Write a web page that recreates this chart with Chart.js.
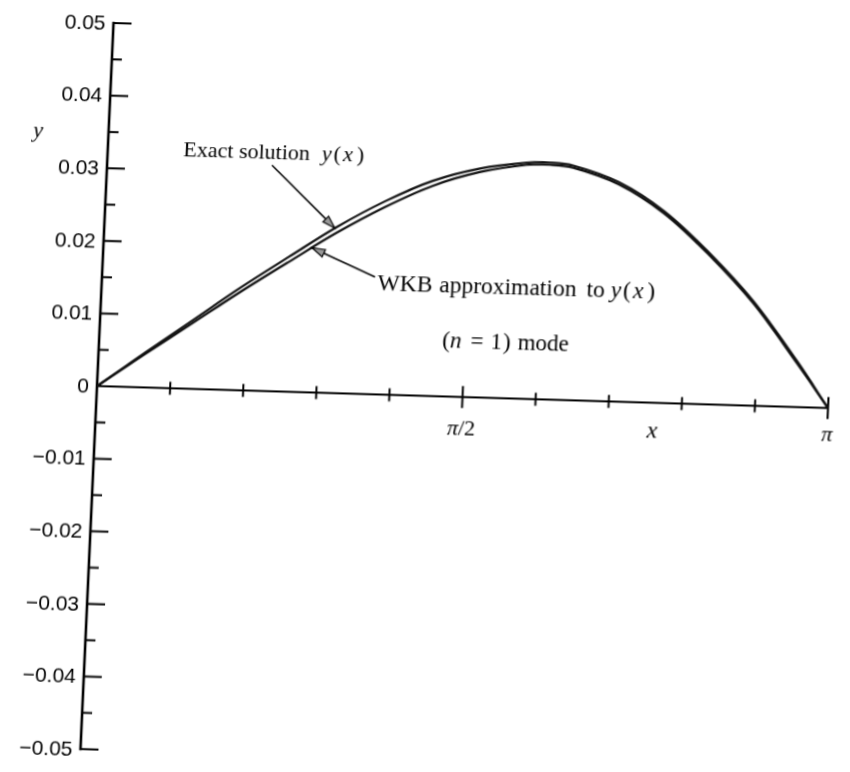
<!DOCTYPE html>
<html>
<head>
<meta charset="utf-8">
<script src="https://cdn.jsdelivr.net/npm/chart.js@4.4.1/dist/chart.umd.min.js"></script>
<style>
  html, body { margin: 0; padding: 0; background: #fff; }
  #wrap { position: relative; width: 850px; height: 772px; overflow: hidden; background: #fff; }
  /* the scanned figure is slightly skewed, follow it */
  #chart { position: absolute; left: 0; top: 0; transform-origin: 97px 386px;
           transform: matrix(1, 0.0301, -0.0455, 1, 0, 0); }
</style>
</head>
<body>
<div id="wrap"><canvas id="chart" width="850" height="772"></canvas></div>
<script>
// data
const xValues = [0, 0.2, 0.4, 0.6, 0.8, 1.0, 1.2, 1.4, 1.6, 1.8, 1.9, 2.0, 2.2, 2.4, 2.6, 2.8, 3.0, Math.PI];
const exactY  = [0, 0.0048, 0.0095, 0.0142, 0.0186, 0.0229, 0.0266, 0.0296, 0.0315, 0.0325, 0.0326, 0.0323, 0.0302, 0.0264, 0.0209, 0.0144, 0.0063, 0];
const wkbY    = [0, 0.0046, 0.0091, 0.0136, 0.0179, 0.0221, 0.0258, 0.0289, 0.0310, 0.0322, 0.0323, 0.0320, 0.0299, 0.0261, 0.0206, 0.0141, 0.0060, 0];

const yMajorTicks = [0.05, 0.04, 0.03, 0.02, 0.01, 0, -0.01, -0.02, -0.03, -0.04, -0.05];
const yTickLabels = ['0.05', '0.04', '0.03', '0.02', '0.01', '0', '\u22120.01', '\u22120.02', '\u22120.03', '\u22120.04', '\u22120.05'];
const yMinorTicks = [0.045, 0.035, 0.025, 0.015, 0.005, -0.005, -0.015, -0.025, -0.035, -0.045];
const xTickFractions = [0.1, 0.2, 0.3, 0.4, 0.5, 0.6, 0.7, 0.8, 0.9, 1.0];
const xLongTicks = [0.5, 1.0];

// annotation anchors, in data units
const exactArrow = [[0.708, 0.0311], [0.99, 0.0227]];
const wkbArrow = [[1.172, 0.01614], [0.896, 0.0199]];

const serif = '"Liberation Serif", "Times New Roman", serif';
const sans = '"Liberation Sans", Arial, sans-serif';

function drawParts(ctx, parts, x, y, size) {
  let cx = x;
  parts.forEach(p => {
    ctx.font = (p.i ? 'italic ' : '') + size + 'px ' + serif;
    ctx.fillText(p.t, cx, y);
    cx += ctx.measureText(p.t).width + (p.gap || 0);
  });
}

function partsWidth(ctx, parts, size) {
  let w = 0;
  parts.forEach(p => {
    ctx.font = (p.i ? 'italic ' : '') + size + 'px ' + serif;
    w += ctx.measureText(p.t).width + (p.gap || 0);
  });
  return w;
}

function arrow(ctx, x1, y1, x2, y2) {
  ctx.beginPath();
  ctx.moveTo(x1, y1);
  ctx.lineTo(x2, y2);
  ctx.lineWidth = 1.6;
  ctx.stroke();
  const ang = Math.atan2(y2 - y1, x2 - x1);
  const len = 13, half = 4;
  const bx = x2 - len * Math.cos(ang), by = y2 - len * Math.sin(ang);
  ctx.beginPath();
  ctx.moveTo(x2, y2);
  ctx.lineTo(bx + half * Math.sin(ang), by - half * Math.cos(ang));
  ctx.lineTo(bx - half * Math.sin(ang), by + half * Math.cos(ang));
  ctx.closePath();
  ctx.fillStyle = '#999';
  ctx.fill();
  ctx.lineWidth = 1.2;
  ctx.stroke();
  ctx.fillStyle = '#000';
}

const bookAxes = {
  id: 'bookAxes',
  beforeDatasetsDraw(chart) {
    const ctx = chart.ctx;
    const xs = chart.scales.x, ys = chart.scales.y;
    const x0 = xs.getPixelForValue(0);
    const y0 = ys.getPixelForValue(0);
    ctx.save();
    ctx.strokeStyle = '#000';
    ctx.fillStyle = '#000';
    ctx.lineCap = 'square';

    // y axis
    ctx.lineWidth = 2.6;
    ctx.beginPath();
    ctx.moveTo(x0, ys.getPixelForValue(0.05));
    ctx.lineTo(x0, ys.getPixelForValue(-0.05));
    ctx.stroke();

    ctx.lineWidth = 2;
    yMajorTicks.forEach(v => {
      const py = ys.getPixelForValue(v);
      ctx.beginPath(); ctx.moveTo(x0, py); ctx.lineTo(x0 + 17, py); ctx.stroke();
    });
    yMinorTicks.forEach(v => {
      const py = ys.getPixelForValue(v);
      ctx.beginPath(); ctx.moveTo(x0, py); ctx.lineTo(x0 + 9, py); ctx.stroke();
    });

    ctx.font = '21px ' + sans;
    ctx.textAlign = 'right';
    ctx.textBaseline = 'middle';
    yMajorTicks.forEach((v, i) => {
      ctx.fillText(yTickLabels[i], x0 - 8, ys.getPixelForValue(v) + 1);
    });

    // x axis along y = 0
    ctx.lineCap = 'butt';
    ctx.lineWidth = 2.2;
    ctx.beginPath();
    ctx.moveTo(x0, y0);
    ctx.lineTo(xs.getPixelForValue(Math.PI), y0);
    ctx.stroke();
    ctx.lineWidth = 2;
    xTickFractions.forEach(f => {
      const px = xs.getPixelForValue(f * Math.PI);
      const h = xLongTicks.includes(f) ? 11 : 6.5;
      ctx.beginPath(); ctx.moveTo(px, y0 - h); ctx.lineTo(px, y0 + h); ctx.stroke();
    });
    ctx.restore();
  },
  afterDatasetsDraw(chart) {
    const ctx = chart.ctx;
    const xs = chart.scales.x, ys = chart.scales.y;
    const X = v => xs.getPixelForValue(v), Y = v => ys.getPixelForValue(v);
    ctx.save();
    ctx.fillStyle = '#000';
    ctx.strokeStyle = '#000';
    ctx.textBaseline = 'alphabetic';
    ctx.textAlign = 'left';

    // axis titles and pi labels
    drawParts(ctx, [{ t: 'y', i: 1 }], X(-0.3235), Y(0.034), 22);
    const halfPi = [{ t: '\u03c0', i: 1 }, { t: '/2' }];
    drawParts(ctx, halfPi, X(Math.PI / 2) - partsWidth(ctx, halfPi, 22) / 2, Y(-0.0052), 22);
    const xl = [{ t: 'x', i: 1 }];
    drawParts(ctx, xl, X(2.391) - partsWidth(ctx, xl, 24) / 2, Y(-0.0048), 24);
    const pl = [{ t: '\u03c0', i: 1 }];
    drawParts(ctx, pl, X(Math.PI) - partsWidth(ctx, pl, 22) / 2, Y(-0.0045), 22);

    // curve annotations
    drawParts(ctx, [{ t: 'Exact solution', gap: 12 }, { t: 'y', i: 1, gap: 2 }, { t: '(', gap: 2 }, { t: 'x', i: 1, gap: 4 }, { t: ')' }],
      X(0.3248), Y(0.0319), 22);
    drawParts(ctx, [{ t: 'WKB', gap: 7 }, { t: 'approximation', gap: 10 }, { t: 'to', gap: 6 }, { t: 'y', i: 1, gap: 2 }, { t: '(', gap: 2 }, { t: 'x', i: 1, gap: 4 }, { t: ')' }],
      X(1.184), Y(0.01438), 23.5);
    drawParts(ctx, [{ t: '(', gap: 0 }, { t: 'n', i: 1, gap: 9 }, { t: '=', gap: 7 }, { t: '1', gap: 1 }, { t: ')', gap: 7 }, { t: 'mode' }],
      X(1.4735), Y(0.0068), 23);

    arrow(ctx, X(exactArrow[0][0]), Y(exactArrow[0][1]), X(exactArrow[1][0]), Y(exactArrow[1][1]));
    arrow(ctx, X(wkbArrow[0][0]), Y(wkbArrow[0][1]), X(wkbArrow[1][0]), Y(wkbArrow[1][1]));
    ctx.restore();
  }
};

const ctx = document.getElementById('chart').getContext('2d');
const chart = new Chart(ctx, {
  type: 'scatter',
  data: {
    datasets: [
      {
        label: 'Exact solution y(x)',
        data: xValues.map((x, i) => ({ x: x, y: exactY[i] })),
        showLine: true,
        borderColor: '#111',
        borderWidth: 2.2,
        pointRadius: 0,
        tension: 0.35
      },
      {
        label: 'WKB approximation to y(x)',
        data: xValues.map((x, i) => ({ x: x, y: wkbY[i] })),
        showLine: true,
        borderColor: '#111',
        borderWidth: 2.2,
        pointRadius: 0,
        tension: 0.35
      }
    ]
  },
  options: {
    responsive: false,
    animation: false,
    layout: { padding: { left: 97, right: 22, top: 23, bottom: 23 } },
    plugins: { legend: { display: false }, tooltip: { enabled: false } },
    scales: {
      x: { type: 'linear', min: 0, max: Math.PI, display: false },
      y: { type: 'linear', min: -0.05, max: 0.05, display: false }
    }
  },
  plugins: [bookAxes]
});
</script>
</body>
</html>
